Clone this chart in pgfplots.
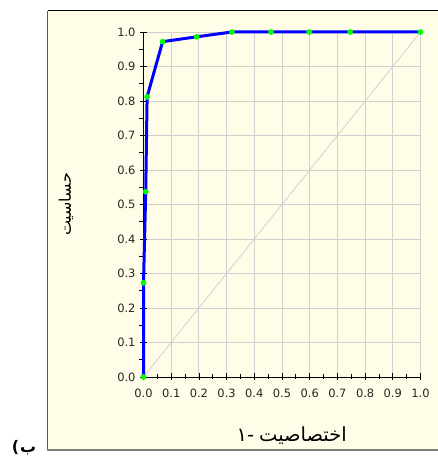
\documentclass[border=0pt]{standalone}
\usepackage{pgfplots}
\pgfplotsset{compat=1.18}
\usepackage{fontspec}
\setmainfont{DejaVu Sans}
\newfontfamily\arabicfont[Script=Arabic]{DejaVu Sans}
\definecolor{panelbg}{RGB}{255,253,231}
\definecolor{gridc}{RGB}{208,208,208}
\definecolor{ptgreen}{RGB}{0,255,0}
\begin{document}
\begin{tikzpicture}[x=1bp,y=1bp]
\useasboundingbox (0,0) rectangle (438,459);
\fill[panelbg] (47.5,9) rectangle (438,448);
\draw[black, line width=1bp] (47.5,448) -- (438,448);
\draw[black!65, line width=1bp] (47.5,9) -- (47.5,448);
\draw[black!50, line width=2bp] (47,9) -- (438,9);
\node[font=\fontsize{16}{18}\selectfont\bfseries, anchor=base, inner sep=0pt] at (24,6) {(\hspace{1bp}{\arabicfont ب}};
\begin{axis}[
  scale only axis,
  width=277bp, height=345bp,
  at={(143.5bp,82bp)}, anchor=south west,
  xmin=0, xmax=1, ymin=0, ymax=1,
  axis lines=left,
  axis line style={black, line width=0.8bp, -},
  xtick={0,0.1,...,1.0}, ytick={0,0.1,...,1.0},
  minor tick num=1,
  tick align=center,
  major tick length=7bp,
  minor tick length=5bp,
  minor y tick style={xshift=-2.5bp},
  every tick/.style={black, line width=0.8bp},
  grid=major,
  major grid style={gridc, line width=0.9bp},
  tick label style={font=\fontsize{11.5}{13}\selectfont, text=black!85},
  /pgf/number format/assume math mode=true,
  /pgf/number format/.cd, fixed, fixed zerofill, precision=1, /pgfplots/.cd,
  xticklabel style={yshift=-5bp},
  yticklabel style={xshift=-1bp},
  xlabel={{\arabicfont ۱}\mbox{-}\hspace{5bp}{\arabicfont اختصاصیت}},
  ylabel={\arabicfont حساسیت},
  xlabel style={at={(axis description cs:0.535,-0.17)}, anchor=center, font=\fontsize{19.5}{21}\selectfont},
  ylabel style={at={(axis description cs:-0.28,0.5)}, anchor=center, rotate=0, font=\fontsize{16}{18}\selectfont},
  clip=false,
]
\addplot[gridc, line width=0.8bp] coordinates {(0,0) (1,1)};
\addplot[blue, line width=3bp, line join=round] coordinates {
(0,0) (0,0.273) (0.008,0.537) (0.013,0.812) (0.069,0.972) (0.192,0.986) (0.319,1.0) (0.46,1.0) (0.598,1.0) (0.746,1.0) (1.0,1.0)
};
\addplot[only marks, mark=*, mark size=2.6bp, mark options={fill=ptgreen, draw=ptgreen}] coordinates {
(0,0) (0,0.273) (0.008,0.537) (0.013,0.812) (0.069,0.972) (0.192,0.986) (0.319,1.0) (0.46,1.0) (0.598,1.0) (0.746,1.0) (1.0,1.0)
};
\end{axis}
\end{tikzpicture}
\end{document}
